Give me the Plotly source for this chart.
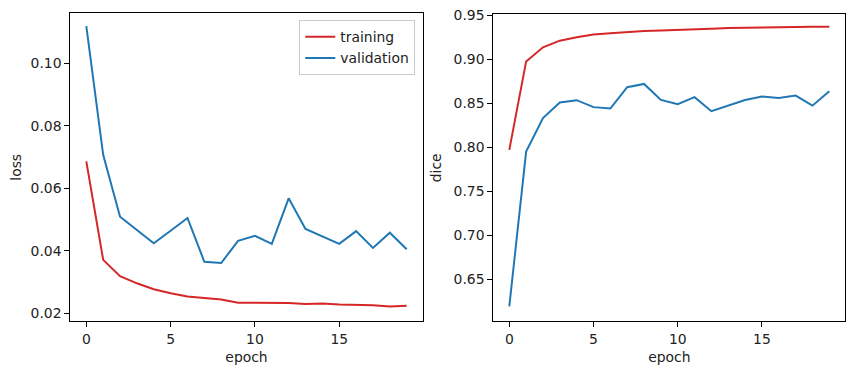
import plotly.graph_objects as go

epochs = list(range(20))
loss_train = [0.0686, 0.0371, 0.0319, 0.0296, 0.0277, 0.0264, 0.0254, 0.0249, 0.0244, 0.0234,
              0.0234, 0.0233, 0.0233, 0.0230, 0.0231, 0.0228, 0.0228, 0.0226, 0.0222, 0.0224]
loss_val = [0.1119, 0.0707, 0.0509, 0.0467, 0.0424, 0.0464, 0.0505, 0.0365, 0.0361, 0.0432,
            0.0448, 0.0422, 0.0568, 0.0470, 0.0445, 0.0422, 0.0463, 0.0409, 0.0458, 0.0405]
dice_train = [0.7969, 0.8975, 0.9136, 0.9211, 0.9250, 0.9280, 0.9295, 0.9310, 0.9320, 0.9328,
              0.9337, 0.9340, 0.9347, 0.9355, 0.9359, 0.9360, 0.9363, 0.9366, 0.9370, 0.9370]
dice_val = [0.6189, 0.7950, 0.8330, 0.8507, 0.8534, 0.8455, 0.8439, 0.8682, 0.8719, 0.8537,
            0.8488, 0.8568, 0.8409, 0.8477, 0.8537, 0.8575, 0.8560, 0.8586, 0.8472, 0.8636]

RED = "#d62728"
BLUE = "#1f77b4"
FONT = "DejaVu Sans"
LW = 2

# page body has an 8px margin; figure coordinates are offset accordingly
OFF = 8
W, H = 839, 358


def fx(px):
    return (px - OFF) / W


def fy(py):
    return 1 - (py - OFF) / H


fig = go.Figure()
fig.add_trace(go.Scatter(x=epochs, y=loss_train, mode="lines", name="training",
                         line=dict(color=RED, width=LW), xaxis="x", yaxis="y"))
fig.add_trace(go.Scatter(x=epochs, y=loss_val, mode="lines", name="validation",
                         line=dict(color=BLUE, width=LW), xaxis="x", yaxis="y"))
fig.add_trace(go.Scatter(x=epochs, y=dice_train, mode="lines", name="training",
                         line=dict(color=RED, width=LW), xaxis="x2", yaxis="y2", showlegend=False))
fig.add_trace(go.Scatter(x=epochs, y=dice_val, mode="lines", name="validation",
                         line=dict(color=BLUE, width=LW), xaxis="x2", yaxis="y2", showlegend=False))

axis_common = dict(showline=True, mirror=True, linecolor="black", linewidth=1,
                   ticks="outside", ticklen=5, tickwidth=1, tickcolor="black",
                   showgrid=False, zeroline=False, automargin=False,
                   ticklabeloverflow="allow",
                   tickfont=dict(family=FONT, size=13.9, color="#222"),
                   title_font=dict(family=FONT, size=13.9, color="#222"))

fig.update_layout(
    width=W, height=H,
    margin=dict(l=0, r=0, t=0, b=0, autoexpand=False),
    paper_bgcolor="white", plot_bgcolor="white",
    font=dict(family=FONT, size=13.9, color="#222"),
    xaxis=dict(domain=[fx(70.3), fx(422.7)], range=[-0.95, 19.95], tickmode="array",
               tickvals=[0, 5, 10, 15], title=dict(text="epoch", standoff=6), anchor="y", **axis_common),
    yaxis=dict(domain=[fy(321.3), fy(13.3)], range=[0.01744, 0.116], tickmode="array",
               tickvals=[0.02, 0.04, 0.06, 0.08, 0.10], tickformat=".2f",
               title=dict(text="loss", standoff=8), anchor="x", **axis_common),
    xaxis2=dict(domain=[fx(493.3), fx(845.3)], range=[-0.95, 19.95], tickmode="array",
                tickvals=[0, 5, 10, 15], title=dict(text="epoch", standoff=6), anchor="y2", **axis_common),
    yaxis2=dict(domain=[fy(321.3), fy(14.3)], range=[0.6019, 0.9511], tickmode="array",
                tickvals=[0.65, 0.70, 0.75, 0.80, 0.85, 0.90, 0.95], tickformat=".2f",
                title=dict(text="dice", standoff=8), anchor="x2", **axis_common),
    legend=dict(x=fx(415.3), y=fy(20.3), xanchor="right", yanchor="top",
                bordercolor="#cccccc", borderwidth=1, bgcolor="rgba(255,255,255,0.8)",
                font=dict(family=FONT, size=13.9, color="#222"), tracegroupgap=0),
    showlegend=True,
)

fig.write_html("out.html")
